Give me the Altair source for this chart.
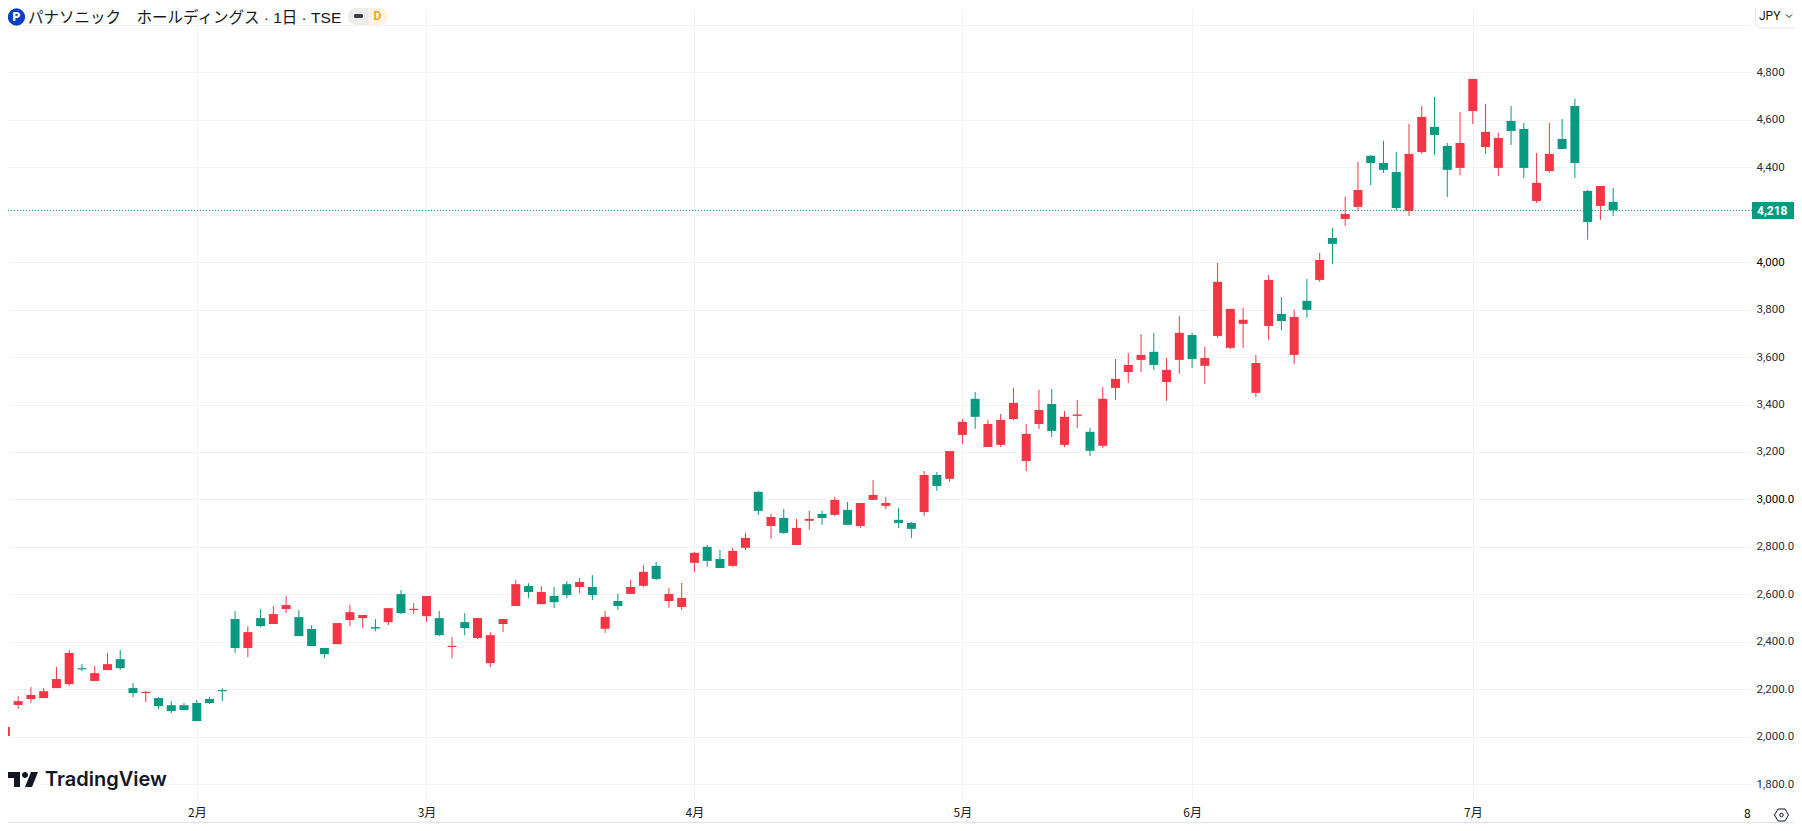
import altair as alt
import pandas as pd

highs = [2041,2171,2209,2205,2294,2365,2306,2298,2353,2365,2226,2192,2167,2150,2142,2155,2167,2205,2530,2466,
 2538,2551,2593,2534,2470,2374,2479,2555,2513,2496,2542,2618,2563,2593,2530,2420,2521,2500,2441,2496,
 2660,2647,2635,2631,2656,2669,2681,2530,2602,2661,2724,2737,2627,2648,2779,2808,2787,2796,2859,3036,
 2939,2960,2918,2952,2952,3011,2990,2985,3082,3011,2964,2905,3120,3116,3204,3339,3453,3335,3360,3470,
 3318,3462,3466,3373,3419,3301,3474,3592,3617,3697,3702,3596,3773,3702,3643,3997,3803,3807,3609,3946,
 3853,3799,3929,4039,4144,4275,4422,4452,4511,4464,4582,4658,4696,4502,4633,4772,4667,4544,4658,4587,
 4460,4587,4603,4688,4304,4321,4313]
body_tops = [2041,2150,2176,2192,2243,2353,2289,2268,2306,2327,2205,2189,2163,2133,2133,2142,2159,2197,2496,2441,
 2500,2517,2555,2504,2454,2374,2479,2525,2513,2462,2542,2601,2539,2593,2500,2383,2483,2500,2428,2496,
 2643,2635,2610,2593,2643,2652,2631,2505,2572,2631,2695,2720,2602,2585,2775,2800,2749,2783,2838,3032,
 2926,2922,2880,2918,2939,2998,2956,2985,3019,2985,2914,2901,3103,3103,3204,3327,3424,3318,3335,3407,
 3276,3377,3402,3348,3358,3285,3424,3508,3567,3609,3622,3546,3702,3693,3596,3917,3803,3757,3575,3925,
 3782,3769,3837,4009,4102,4203,4304,4448,4418,4380,4456,4612,4570,4490,4502,4772,4549,4523,4595,4561,
 4334,4456,4519,4658,4300,4321,4254]
body_bottoms = [2003,2134,2159,2163,2205,2222,2284,2235,2281,2289,2184,2184,2129,2108,2112,2066,2142,2192,2374,2374,
 2466,2475,2538,2424,2382,2348,2390,2492,2500,2456,2483,2521,2534,2508,2428,2378,2458,2416,2310,2475,
 2551,2610,2559,2567,2597,2631,2597,2455,2551,2602,2636,2665,2572,2547,2733,2741,2711,2720,2796,2952,
 2888,2859,2808,2910,2922,2935,2893,2888,2998,2973,2901,2876,2947,3057,3087,3272,3348,3221,3230,3339,
 3162,3318,3289,3230,3352,3205,3226,3470,3537,3588,3567,3495,3588,3592,3563,3689,3639,3740,3449,3731,
 3752,3609,3799,3925,4077,4182,4233,4418,4389,4228,4216,4464,4536,4389,4397,4637,4485,4397,4553,4397,
 4258,4384,4477,4418,4169,4237,4218]
lows = [2003,2118,2142,2163,2205,2214,2277,2235,2281,2281,2167,2146,2117,2100,2112,2066,2138,2150,2353,2336,
 2462,2475,2521,2424,2382,2331,2390,2466,2458,2445,2470,2517,2517,2483,2424,2331,2428,2412,2294,2441,
 2551,2584,2559,2542,2584,2605,2576,2438,2535,2602,2631,2661,2543,2535,2695,2716,2711,2716,2787,2935,
 2834,2855,2808,2872,2893,2930,2893,2880,2998,2960,2880,2838,2931,3036,3074,3234,3297,3221,3221,3335,
 3120,3297,3263,3221,3301,3183,3217,3419,3491,3537,3546,3415,3529,3554,3487,3681,3634,3639,3432,3672,
 3714,3571,3765,3917,3992,4153,4216,4325,4376,4216,4195,4456,4452,4275,4367,4582,4456,4363,4494,4355,
 4249,4376,4477,4355,4094,4178,4195]
up_flags = [1,1,1,1,1,1,0,1,1,0,0,1,0,0,0,0,0,0,0,1,
 0,1,1,0,0,0,1,1,1,0,1,0,1,1,0,1,0,1,1,1,
 1,0,1,0,0,1,0,1,0,1,1,0,1,1,1,0,0,1,1,0,
 1,0,1,1,0,1,0,1,1,1,0,0,1,0,1,1,0,1,1,1,
 1,1,0,1,1,0,1,1,1,1,0,1,1,0,1,1,1,1,1,1,
 0,1,0,1,0,1,1,0,0,0,1,1,0,0,1,1,1,1,0,0,
 1,1,0,0,0,1,0]

month_bars = [15, 33, 54, 75, 93, 115]
month_labels = ["2月", "3月", "4月", "5月", "6月", "7月"]
price_ticks = list(range(1800, 5001, 200))
last_price = 4218

RED, GREEN = "#F23645", "#089981"
INK = "#131722"
GRID = "#f3f3f4"
FONT = "Roboto"
JP = "Noto Sans CJK JP"

PLOT_W, PLOT_H = 1743, 792
BAR_STEP = 12.76
x_scale = alt.Scale(domain=[(8 - 5.4) / BAR_STEP, (1751 - 5.4) / BAR_STEP], nice=False, zero=False, padding=0)
y_scale = alt.Scale(domain=[1733.4, 5071], nice=False, zero=False)

df = pd.DataFrame({
    "i": range(len(highs)), "high": highs, "low": lows,
    "top": body_tops, "bottom": body_bottoms,
    "dir": ["up" if u else "down" for u in up_flags],
})
color = alt.Color("dir:N", scale=alt.Scale(domain=["up", "down"], range=[RED, GREEN]), legend=None)

label_map = "{" + ",".join(f"{b}:'{t}'" for b, t in zip(month_bars, month_labels)) + "}"
x_axis = alt.Axis(values=month_bars, labelExpr=f"{label_map}[datum.value]", title=None, grid=True,
                  gridColor=GRID, gridWidth=1, ticks=False, domain=False, labelFont=JP, labelFontSize=12,
                  labelColor=INK, labelPadding=7, labelFlush=False, labelOverlap=False, labelAngle=0)
y_axis = alt.Axis(orient="right", values=price_ticks, title=None, grid=True, gridColor=GRID, gridWidth=1,
                  ticks=False, domain=False, labelFont=FONT, labelFontSize=11.5, labelPadding=5, labelAlign="left",
                  labelOverlap=False, labelFlush=False,
                  labelColor={"condition": {"test": "datum.value == 4000 || datum.value == 3000", "value": "#000000"},
                              "value": "#2a2e39"},
                  labelExpr="datum.value == 5000 || datum.value == 4200 ? '' : "
                            "(datum.value > 3000 ? format(datum.value, ',') : format(datum.value, ',.1f'))")

wicks = alt.Chart(df).mark_rule(strokeWidth=1).encode(
    x=alt.X("i:Q", scale=x_scale, axis=x_axis),
    y=alt.Y("high:Q", scale=y_scale, axis=y_axis),
    y2="low:Q", color=color)
bodies = alt.Chart(df).mark_bar(size=9).encode(
    x=alt.X("i:Q", scale=x_scale, axis=x_axis),
    y=alt.Y("top:Q", scale=y_scale, axis=y_axis),
    y2="bottom:Q", color=color)

one = alt.Data(values=[{"a": 1}])
px = lambda v: alt.value(v - 8)

last_line = alt.Chart(alt.Data(values=[{"p": last_price}])).mark_rule(
    color=GREEN, strokeWidth=1, strokeDash=[1, 2]).encode(
    x=alt.value(0), x2=px(1752), y=alt.Y("p:Q", scale=y_scale, axis=y_axis))
tag = alt.Chart(one).mark_rect(color=GREEN, cornerRadius=1).encode(
    x=px(1752), x2=px(1795), y=px(202), y2=px(219))

def label(txt, x, y, **kw):
    return alt.Chart(one).mark_text(text=txt, **kw).encode(x=px(x), y=px(y))

tag_text = label("4,218", 1757, 210.5, font=FONT, fontSize=12, fontWeight=700, color="#ffffff", align="left", baseline="middle")

eight = label("8", 1744, 814, font=FONT, fontSize=12, color=INK, align="left", baseline="middle")
bottom_line = alt.Chart(one).mark_rule(color="#e0e3eb", strokeWidth=1).encode(x=alt.value(-8), x2=px(1802), y=px(822.5))

title = label("パナソニック　ホールディングス · 1日 · TSE", 28, 17.5, font="Liberation Sans, Noto Sans CJK JP", fontSize=15.5, color=INK, align="left", baseline="middle")
logo_bg = alt.Chart(one).mark_point(filled=True, shape="circle", size=300, color="#0b3fc1", opacity=1, strokeWidth=0).encode(x=px(16.5), y=px(17))
logo_p = label("P", 16.5, 17, font=FONT, fontSize=12, fontWeight=900, color="#ffffff", align="center", baseline="middle")

pill_l = alt.Chart(one).mark_rect(color="#ebebeb", cornerRadiusTopLeft=9, cornerRadiusBottomLeft=9).encode(
    x=px(348), x2=px(368), y=px(8), y2=px(25))
pill_r = alt.Chart(one).mark_rect(color="#fff3e0", cornerRadiusTopRight=9, cornerRadiusBottomRight=9).encode(
    x=px(368), x2=px(388), y=px(8), y2=px(25))
pill_dash = alt.Chart(one).mark_rect(color="#3a3d45", cornerRadius=1.5).encode(
    x=px(354), x2=px(363), y=px(14), y2=px(18))
pill_d = label("D", 377.5, 16, font=FONT, fontSize=12, fontWeight=500, color="#ff9800", align="center", baseline="middle")

jpy_box = alt.Chart(one).mark_rect(fill="#ffffff", stroke="#e0e3eb", strokeWidth=1, cornerRadius=6).encode(
    x=px(1755.5), x2=px(1815), y=px(3), y2=px(28))
jpy = label("JPY", 1759, 15.5, font=FONT, fontSize=12, color=INK, align="left", baseline="middle")
chevron = alt.Chart(one).mark_point(shape="M-3,-1.5L0,1.5L3,-1.5", size=4, filled=False, stroke=INK, strokeWidth=1, opacity=1).encode(x=px(1789), y=px(16))

tv_mark = alt.Chart(one).mark_point(
    shape="M-3,-7.5H-15v6h6v9h6V-7.5ZM9,7.5h-7l6-15h7l-6,15ZM2,-1.5a3,3,0,1,0,0-6,3,3,0,0,0,0,6Z",
    size=4, filled=True, color="#131722", opacity=1, strokeWidth=0).encode(x=px(23), y=px(779.5))
tv_text = label("TradingView", 45, 780, font="Inter", fontSize=20, fontWeight=600, color="#131722", align="left", baseline="middle")

gear = alt.Chart(one).mark_point(shape="M-7,0L-3.5,-6L3.5,-6L7,0L3.5,6L-3.5,6Z", size=4, filled=False, stroke=INK, strokeWidth=1, opacity=1).encode(x=px(1781.5), y=px(815))
gear_dot = alt.Chart(one).mark_point(shape="circle", size=12, filled=False, stroke=INK, strokeWidth=1, opacity=1).encode(x=px(1781.5), y=px(815))

chart = alt.layer(
    wicks, bodies, last_line, tag, tag_text, eight, bottom_line,
    title, logo_bg, logo_p, pill_l, pill_r, pill_dash, pill_d,
    jpy_box, jpy, chevron, tv_mark, tv_text, gear, gear_dot,
).properties(
    width=PLOT_W, height=PLOT_H,
    autosize=alt.AutoSizeParams(type="none"),
    padding={"left": 0, "top": 0, "right": 43, "bottom": 23},
    background="#ffffff",
).configure_view(stroke=None)

chart.save("out.html", embed_options={"renderer": "svg", "actions": False})
